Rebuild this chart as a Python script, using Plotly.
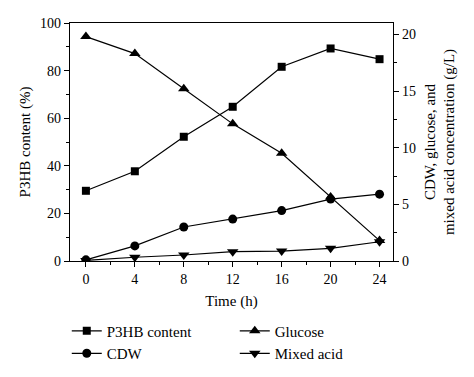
import plotly.graph_objects as go

time_h = [0, 4, 8, 12, 16, 20, 24]
p3hb_content = [29.5, 37.7, 52.2, 64.8, 81.6, 89.3, 84.8]
cdw = [0.1, 1.33, 3.0, 3.7, 4.45, 5.46, 5.9]
glucose = [19.8, 18.3, 15.2, 12.1, 9.5, 5.65, 1.8]
mixed_acid = [0.05, 0.33, 0.53, 0.82, 0.88, 1.12, 1.7]

FONT = "Liberation Serif"
line = dict(color="black", width=1.2)

fig = go.Figure()
fig.add_trace(go.Scatter(x=time_h, y=p3hb_content, name="P3HB content", mode="lines+markers",
                         line=line, marker=dict(symbol="square", size=8, color="black"),
                         legendrank=1))
fig.add_trace(go.Scatter(x=time_h, y=cdw, name="CDW", mode="lines+markers", yaxis="y2",
                         line=line, marker=dict(symbol="circle", size=9, color="black"),
                         legendrank=3))
fig.add_trace(go.Scatter(x=time_h, y=glucose, name="Glucose", mode="lines+markers", yaxis="y2",
                         line=line, marker=dict(symbol="triangle-up", size=10, color="black"),
                         legendrank=2))
fig.add_trace(go.Scatter(x=time_h, y=mixed_acid, name="Mixed acid", mode="lines+markers", yaxis="y2",
                         line=line, marker=dict(symbol="triangle-down", size=10, color="black"),
                         legendrank=4))

axcommon = dict(showline=True, linecolor="black", linewidth=1.2, ticks="outside",
                tickcolor="black", ticklen=5, showgrid=False, zeroline=False,
                tickfont=dict(family=FONT, size=14, color="black"))

# page body has an 8px margin, so the figure is sized/margined to compensate
fig.update_layout(
    width=466, height=369,
    margin=dict(l=62, r=81, t=15, b=116, autoexpand=False),
    paper_bgcolor="white", plot_bgcolor="white",
    font=dict(family=FONT, size=14, color="black"),
    xaxis=dict(range=[-1.3, 25.1], tickvals=[0, 4, 8, 12, 16, 20, 24],
               minor=dict(tickvals=[2, 6, 10, 14, 18, 22], ticks="outside", ticklen=3, tickcolor="black"),
               mirror=True,
               title=dict(text="Time (h)", font=dict(family=FONT, size=15), standoff=9),
               **axcommon),
    yaxis=dict(range=[0, 100], tickvals=[0, 20, 40, 60, 80, 100],
               minor=dict(tickvals=[10, 30, 50, 70, 90], ticks="outside", ticklen=3, tickcolor="black"),
               title=dict(text="P3HB content (%)", font=dict(family=FONT, size=15), standoff=5),
               **axcommon),
    yaxis2=dict(range=[0, 21], overlaying="y", side="right", tickvals=[0, 5, 10, 15, 20],
                minor=dict(tickvals=[2.5, 7.5, 12.5, 17.5], ticks="outside", ticklen=3, tickcolor="black"),
                title=dict(text="CDW, glucose, and<br>mixed acid concentration (g/L)",
                           font=dict(family=FONT, size=15), standoff=9),
                **axcommon),
    legend=dict(orientation="h", x=-0.01, xanchor="left", y=-0.225, yanchor="top",
                entrywidth=123, itemwidth=30, font=dict(family=FONT, size=15), tracegroupgap=0,
                bgcolor="rgba(0,0,0,0)"),
)

fig.write_html("out.html")
